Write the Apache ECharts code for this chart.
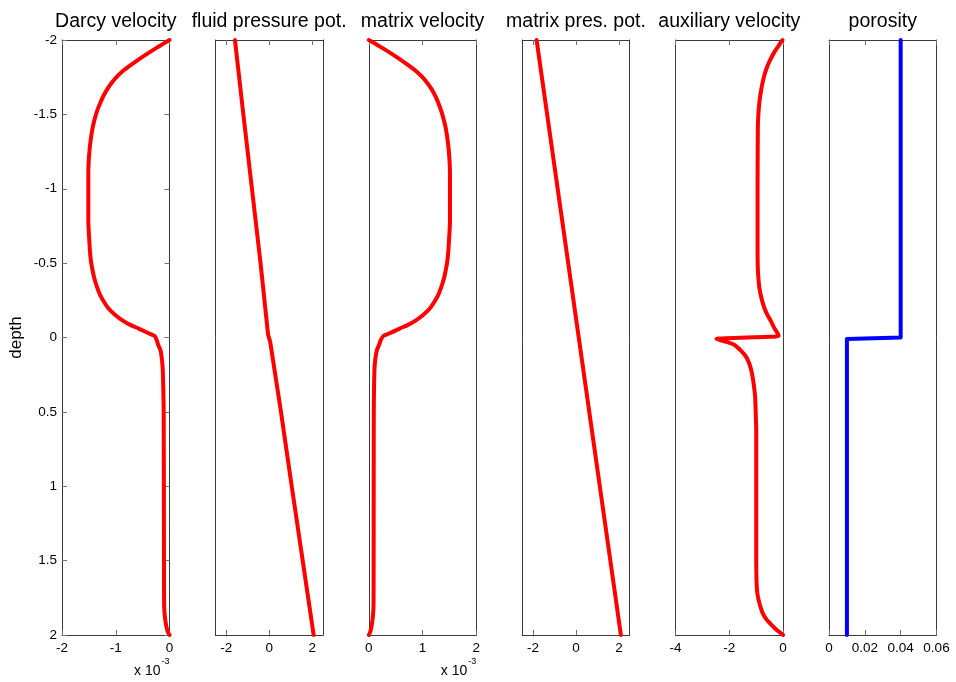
<!DOCTYPE html>
<html>
<head>
<meta charset="utf-8">
<script src="https://cdn.jsdelivr.net/npm/echarts@6/dist/echarts.min.js"></script>
<style>html,body{margin:0;padding:0;background:#fff}#c{width:956px;height:682px}</style>
</head>
<body>
<div id="c"></div>
<script>
// ---- data (depth positive downward; velocities in units shown on axes) ----
const panelTitles = ['Darcy velocity', 'fluid pressure pot.', 'matrix velocity', 'matrix pres. pot.', 'auxiliary velocity', 'porosity'];
const depthTicks = [-2, -1.5, -1, -0.5, 0, 0.5, 1, 1.5, 2];

const darcyDepth = [-2, -1.96, -1.92, -1.88, -1.84, -1.80, -1.76, -1.72, -1.68, -1.63, -1.58, -1.52, -1.45, -1.38, -1.25, -1.1, -0.9, -0.78, -0.70, -0.64, -0.58, -0.51, -0.45, -0.40, -0.34, -0.285, -0.24, -0.195, -0.155, -0.117, -0.085, -0.06, -0.03, -0.01, 0.02, 0.05, 0.085, 0.15, 0.22, 0.35, 0.5, 1.0, 1.5, 1.8, 1.88, 1.94, 1.98, 2.0];
const darcyVel   = [0, -0.184, -0.36, -0.53, -0.69, -0.84, -0.96, -1.06, -1.14, -1.22, -1.285, -1.35, -1.405, -1.445, -1.49, -1.51, -1.51, -1.51, -1.50, -1.49, -1.48, -1.46, -1.43, -1.40, -1.35, -1.29, -1.22, -1.135, -1.02, -0.884, -0.73, -0.574, -0.40, -0.275, -0.235, -0.21, -0.168, -0.14, -0.125, -0.115, -0.108, -0.105, -0.103, -0.10, -0.085, -0.06, -0.03, 0];

const fluidDepth = [-2, -1.5, -1, -0.5, -0.02, 0.03, 0.5, 1, 1.5, 2];
const fluidPot   = [-1.59, -1.2, -0.8, -0.4, -0.05, 0.05, 0.55, 1.05, 1.56, 2.07];

const matrixDepth = [-2, -1.96, -1.92, -1.88, -1.84, -1.80, -1.76, -1.72, -1.68, -1.63, -1.58, -1.52, -1.45, -1.38, -1.25, -1.1, -0.9, -0.78, -0.70, -0.64, -0.58, -0.51, -0.45, -0.40, -0.34, -0.285, -0.24, -0.195, -0.155, -0.117, -0.085, -0.06, -0.03, -0.01, 0.02, 0.05, 0.085, 0.15, 0.22, 0.35, 0.5, 1.0, 1.5, 1.8, 1.88, 1.94, 1.98, 2.0];
const matrixVel   = [0, 0.19, 0.37, 0.54, 0.70, 0.85, 0.97, 1.07, 1.15, 1.23, 1.29, 1.35, 1.405, 1.445, 1.49, 1.51, 1.51, 1.51, 1.50, 1.49, 1.48, 1.46, 1.43, 1.40, 1.35, 1.29, 1.22, 1.135, 1.02, 0.884, 0.73, 0.574, 0.40, 0.27, 0.22, 0.19, 0.15, 0.12, 0.105, 0.097, 0.093, 0.091, 0.09, 0.088, 0.075, 0.052, 0.026, 0];

const mpresDepth = [-2, -1, 0, 1, 2];
const mpresPot   = [-1.83, -0.85, 0.13, 1.11, 2.09];

const auxDepth = [-2, -1.98, -1.96, -1.92, -1.87, -1.83, -1.78, -1.72, -1.65, -1.585, -1.5, -1.41, -1.0, -0.6, -0.46, -0.38, -0.33, -0.26, -0.195, -0.15, -0.105, -0.06, -0.027, -0.01, 0.01, 0.03, 0.05, 0.09, 0.13, 0.18, 0.24, 0.32, 0.40, 0.5, 0.62, 1.0, 1.5, 1.63, 1.70, 1.74, 1.80, 1.855, 1.90, 1.93, 1.96, 1.99, 2.0];
const auxVel   = [-0.02, -0.1, -0.17, -0.32, -0.47, -0.57, -0.67, -0.755, -0.83, -0.88, -0.92, -0.94, -0.95, -0.95, -0.94, -0.91, -0.88, -0.80, -0.69, -0.58, -0.44, -0.32, -0.2, -0.17, -2.48, -2.1, -1.81, -1.56, -1.375, -1.25, -1.16, -1.09, -1.04, -1.02, -1.0, -1.0, -1.0, -0.99, -0.97, -0.94, -0.86, -0.755, -0.6, -0.44, -0.28, -0.07, 0];

const porDepth = [-2, 0, 0.01, 2];
const porosity = [0.04, 0.04, 0.01, 0.01];

const xRanges = [[-2, 0], [-2.5, 2.5], [0, 2], [-2.5, 2.5], [-4, 0], [0, 0.06]];
const xTicks = [[-2, -1, 0], [-2, 0, 2], [0, 1, 2], [-2, 0, 2], [-4, -2, 0], [0, 0.02, 0.04, 0.06]];

const seriesDefs = [
  [darcyVel, darcyDepth, '#ff0000', 0.2],
  [fluidPot, fluidDepth, '#ff0000', 0],
  [matrixVel, matrixDepth, '#ff0000', 0.2],
  [mpresPot, mpresDepth, '#ff0000', 0],
  [auxVel, auxDepth, '#ff0000', 0.2],
  [porosity, porDepth, '#0000ff', 0]
];

// ---- layout ----
const FONT = '"Liberation Sans", Arial, Helvetica, sans-serif';
const gLeft0 = 62, gStep = 153.4, gW = 107.5, gTop = 40, gH = 595;
const lineCol = '#3a3a3a', tickCol = '#707070';

const grid = [], xAxis = [], yAxis = [], series = [], graphic = [];
for (let i = 0; i < 6; i++) {
  const left = gLeft0 + gStep * i;
  grid.push({left: left, top: gTop, width: gW, height: gH, containLabel: false});
  const [mn, mx] = xRanges[i];
  xAxis.push({
    type: 'value', gridIndex: i, position: 'bottom', min: mn, max: mx,
    axisLine: {show: true, onZero: false, lineStyle: {color: lineCol, width: 1}},
    axisTick: {show: true, inside: true, length: 5, customValues: xTicks[i], lineStyle: {color: tickCol}},
    axisLabel: {show: true, customValues: xTicks[i], color: '#000', fontFamily: FONT, fontSize: 13.5, margin: 6},
    splitLine: {show: false}
  });
  xAxis.push({
    type: 'value', gridIndex: i, position: 'top', min: mn, max: mx,
    axisLine: {show: true, onZero: false, lineStyle: {color: lineCol, width: 1}},
    axisTick: {show: true, inside: true, length: 5, customValues: xTicks[i], lineStyle: {color: tickCol}},
    axisLabel: {show: false},
    splitLine: {show: false}
  });
  const first = i === 0;
  yAxis.push({
    type: 'value', gridIndex: i, position: 'left', inverse: true, min: -2, max: 2, interval: 0.5,
    name: first ? 'depth' : '', nameLocation: 'middle', nameGap: 37, nameRotate: 90,
    nameTextStyle: {color: '#000', fontFamily: FONT, fontSize: 17},
    axisLine: {show: true, onZero: false, lineStyle: {color: lineCol, width: 1}},
    axisTick: {show: first, inside: true, length: 5, lineStyle: {color: tickCol}},
    axisLabel: {show: first, color: '#000', fontFamily: FONT, fontSize: 13.5, margin: 5},
    splitLine: {show: false}
  });
  yAxis.push({
    type: 'value', gridIndex: i, position: 'right', inverse: true, min: -2, max: 2, interval: 0.5,
    axisLine: {show: true, onZero: false, lineStyle: {color: lineCol, width: 1}},
    axisTick: {show: first, inside: true, length: 5, lineStyle: {color: tickCol}},
    axisLabel: {show: false},
    splitLine: {show: false}
  });
  const [xs, ds, col, sm] = seriesDefs[i];
  series.push({
    type: 'line', xAxisIndex: 2 * i, yAxisIndex: 2 * i, clip: false,
    data: xs.map((v, k) => [v, ds[k]]),
    showSymbol: false, symbol: 'none', smooth: sm,
    lineStyle: {color: col, width: 4, join: 'round', cap: 'round'},
    itemStyle: {color: col}, silent: true, animation: false
  });
  graphic.push({
    type: 'text', x: left + gW / 2, y: 22,
    style: {text: panelTitles[i], fill: '#000', font: '19.5px ' + FONT, textAlign: 'center', textVerticalAlign: 'middle'}
  });
}
// x 10^-3 multipliers under panels 1 and 3
[0, 2].forEach(i => {
  const right = gLeft0 + gStep * i + gW;
  graphic.push({
    type: 'text', x: right - 9, y: 671,
    style: {text: 'x 10', fill: '#000', font: '14px ' + FONT, textAlign: 'right', textVerticalAlign: 'middle'}
  });
  graphic.push({
    type: 'text', x: right - 8, y: 662,
    style: {text: '-3', fill: '#000', font: '9px ' + FONT, textAlign: 'left', textVerticalAlign: 'middle'}
  });
});

const chart = echarts.init(document.getElementById('c'), null, {renderer: 'canvas'});
chart.setOption({
  backgroundColor: '#ffffff',
  animation: false,
  grid, xAxis, yAxis, series, graphic
});
</script>
</body>
</html>
